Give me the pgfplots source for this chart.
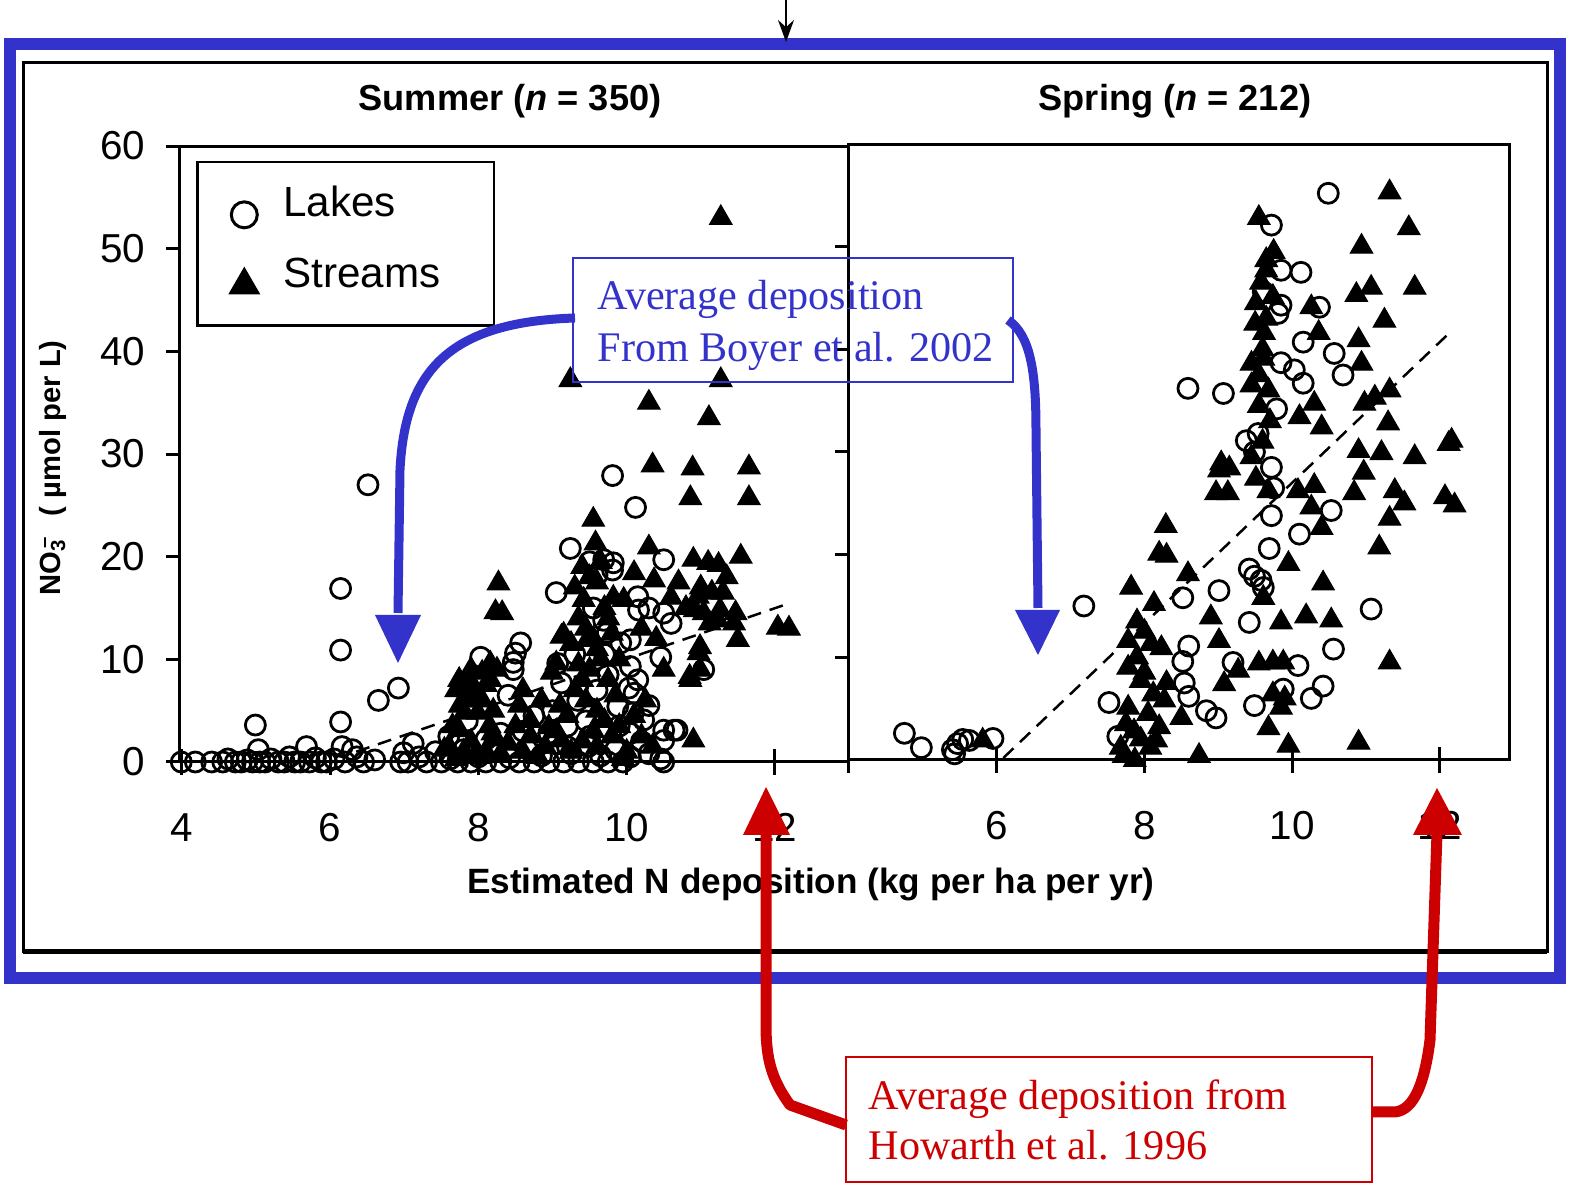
\documentclass[border=0pt]{standalone}
\usepackage{pgfplots}
\pgfplotsset{compat=1.18}
\usetikzlibrary{arrows.meta}
\usepackage{fontspec}
\setmainfont{Liberation Sans}
\newfontfamily\seriffont{Liberation Serif}
\definecolor{frameblue}{RGB}{51,51,204}
\definecolor{notered}{RGB}{204,0,0}

\pgfplotsset{
  lakes/.style={only marks, black, mark=o, mark size=1.0mm, mark options={line width=0.28mm}},
  streams/.style={only marks, black, mark=triangle*, mark size=1.3mm, mark options={fill=black, line width=0.1mm}},
  panel/.style={
    scale only axis, clip=false,
    ymin=0, ymax=60,
    axis line style={line width=0.3mm},
    tick style={black, line width=0.3mm},
    major tick length=1.35mm,
    minor tick length=1.0mm,
    tick label style={font=\fontsize{11.5}{13}\selectfont},
    /pgf/number format/assume math mode=true,
    xtick=\empty,
    extra x ticks={4,6,8,10,12},
    extra x tick style={major tick length=2.6mm, xtick align=center},
    xticklabel style={yshift=-2.6mm},
    yticklabel style={xshift=-0.9mm},
    ytick align=outside,
  },
}

\begin{document}
\begin{tikzpicture}[x=0.1mm,y=0.1mm]
\path[use as bounding box, fill=white] (0,0) rectangle (1571,1185);

% outer and inner frames
\draw[frameblue, line width=1.2mm] (10,207) rectangle (1560,1141);
\draw[black, line width=0.3mm] (23,233) rectangle (1547,1122);
\draw[black, line width=0.5mm] (23,233) -- (1547,233);
\draw[-{Stealth[length=2.2mm,width=1.6mm]}, line width=0.15mm] (786,1185) -- (786,1143);

% ---------------- Summer panel ----------------
\begin{axis}[panel,
  at={(18.0mm,42.3mm)}, anchor=south west,
  width=66.9mm, height=61.6mm,
  xmin=3.973, xmax=13,
  axis x line*=bottom, axis y line*=left,
  ytick={0,10,...,60},
  extra x tick labels={4,6,8,10,12},
  ytick align=outside,
  legend style={at={(0.024,0.976)}, anchor=north west, draw=black, line width=0.25mm,
    fill=white, inner xsep=1.7mm, inner ysep=2.45mm, row sep=2.6mm, column sep=0.9mm,
    font=\fontsize{12}{14}\selectfont,
    nodes={inner sep=0pt, text height=3.03mm, text depth=1.4mm},
    cells={anchor=base west}},
  legend image code/.code={\draw[overlay,#1] plot coordinates {(0.3cm,0.02cm)};
    \path[draw=none, fill=none] (0cm,0cm) rectangle (0.6cm,0.3cm);},
]
\draw[line width=0.3mm] (rel axis cs:0,1) -- (rel axis cs:1,1);
\addlegendimage{only marks, black, mark=o, mark size=1.3mm, mark options={line width=0.3mm}}
\addlegendentry{Lakes}
\addlegendimage{only marks, black, mark=triangle*, mark size=1.75mm, mark options={fill=black, line width=0.1mm}}
\addlegendentry{Streams\hspace*{3.65mm}}

% fitted line
\addplot[black, line width=0.25mm, dash pattern=on 1.4mm off 0.9mm, forget plot]
  coordinates {(6.35,1.0) (12.15,15.35)};

% streams
\addplot[streams, forget plot] coordinates {
(11.27,53.0) (9.24,37.2) (11.27,37.2) (10.3,35.0) (11.11,33.5) (10.35,28.9) (10.89,28.6)
(11.65,28.7) (10.86,25.7) (11.65,25.7) (9.55,23.6) (11.54,20.0) (8.27,17.4) (8.23,14.6)
(8.32,14.5) (12.04,13.1) (12.19,13.0) (9.15,12.4) (8.6,7.0) (10.9,2.1) (9.58,21.3)
(10.3,20.9) (10.9,19.7) (11.1,19.4) (11.24,19.2) (10.1,18.4) (10.37,17.7) (11.3,16.5)
(11.5,11.9) (10.5,9.0) (10.86,8.0) (10.97,10.6) (10.99,11.2) (9.96,15.8) (9.82,16.0)
(9.42,15.8) (9.47,11.9) (11.04,14.5) (11.23,13.8) (10.96,16.1) (11.26,14.8) (11.47,14.5)
(10.92,14.8) (11.12,13.5) (10.85,8.3) (10.99,9.0)
(9.12,12.2) (9.05,9.6) (8.99,8.7) (8.95,3.4) (9.12,2.1)
(7.74,8.0) (7.88,8.0) (8.05,8.7) (8.16,9.6) (8.05,6.0) (7.81,4.8) (7.85,6.0) (8.16,8.0)
(7.99,4.8) (7.74,3.1) (8.19,2.8) (7.54,1.2)
(9.3,17.0) (9.4,19.0) (9.5,18.0) (9.6,17.5) (9.65,19.5) (9.7,15.0) (9.75,14.0) (9.35,14.0)
(9.45,13.0) (9.55,12.0) (9.6,11.0) (9.65,10.0) (9.5,9.0) (9.4,8.0) (9.3,7.0) (9.45,6.0)
(9.6,5.0) (9.7,4.0) (9.55,3.0) (9.4,2.0) (9.25,1.0) (9.6,1.5) (9.8,2.5) (9.9,3.5)
(9.85,6.5) (9.75,8.0) (9.2,4.5) (9.1,5.5) (9.05,3.0) (8.9,1.5) (8.8,0.5) (8.7,2.5)
(8.6,1.0) (8.5,3.5) (8.4,1.8) (8.3,0.8) (8.2,2.2) (8.1,1.0) (8.0,0.5) (7.9,2.0)
(7.8,1.0) (7.7,0.3) (7.6,1.5) (7.65,3.5) (7.75,5.5) (7.85,7.0) (7.95,6.5) (8.1,7.5)
(8.2,5.0) (8.15,3.5) (8.25,9.0) (7.7,7.0) (7.9,9.0) (10.0,1.0) (10.2,2.5) (10.35,1.5)
(9.95,0.3) (10.1,4.5) (10.25,6.0) (10.4,12.0) (10.2,13.0) (10.6,16.0) (10.7,17.5)
(10.8,15.0) (11.0,17.0) (11.15,16.5) (11.35,18.0) (11.45,13.5) (9.35,9.5) (9.25,11.5)
(9.8,12.5) (9.9,10.0) (8.55,5.5) (8.85,6.0) (8.7,4.0)
};

% lakes
\addplot[lakes, forget plot] coordinates {
(3.99,0) (4.18,0) (4.4,0) (4.55,0) (4.62,0.3) (4.72,0) (4.8,0) (4.88,0.2) (4.95,0)
(5.03,1.2) (5.05,0) (5.12,0) (5.2,0.3) (5.3,0) (5.38,0) (5.45,0.5) (5.52,0) (5.6,0)
(5.68,1.5) (5.72,0) (5.8,0.4) (5.88,0) (5.95,0) (6.05,0.3) (6.16,1.5) (6.2,0) (6.3,1.2)
(6.36,0.5) (6.45,0) (6.6,0.2) (6.99,0.9) (7.12,1.8) (6.95,0) (7.05,0) (7.2,0.5) (7.3,0)
(7.42,1.0) (7.5,0) (7.62,0.3) (7.72,0) (7.8,1.2) (7.9,0) (8.0,0.5) (8.1,0) (8.2,1.0)
(8.3,0) (8.42,0.4) (8.55,0) (8.65,1.3) (8.75,0) (8.85,0.6) (8.95,0) (9.05,1.8) (9.15,0)
(9.25,0.8) (9.35,0) (9.48,1.5) (9.55,0) (9.65,0.6) (9.75,0) (9.85,1.2) (9.95,0)
(10.05,0.5) (10.2,2.0) (10.3,0.8) (10.46,0.3) (10.5,0) (10.5,2.1) (10.64,3.1) (10.68,3.1)
(4.99,3.6) (6.14,3.9) (6.14,10.9) (6.14,16.9) (6.51,27.0) (6.65,6.0) (6.92,7.2)
(8.03,10.2) (8.47,9.7) (8.5,10.6) (8.57,11.6) (8.47,9.0) (9.07,9.6) (9.12,7.7) (9.05,16.5)
(9.24,20.8) (9.5,19.5) (9.69,19.7) (9.82,19.4) (9.81,18.7) (9.6,18.2) (9.81,27.9)
(10.12,24.8) (10.15,16.1) (10.16,14.8) (10.5,14.5) (10.5,19.7) (10.05,9.3) (10.15,8.0)
(10.1,6.7) (10.03,7.2) (10.46,10.2) (11.04,9.0) (9.92,11.6) (9.74,12.6) (9.69,13.8)
(10.05,11.9) (9.34,6.0) (9.88,5.4) (10.23,4.1) (10.09,4.8) (10.05,2.8) (10.5,3.1)
(8.95,2.8) (8.6,3.0) (8.75,4.5) (9.0,5.0) (9.2,3.5) (9.45,4.0) (9.6,7.0) (9.75,8.5)
(9.9,3.5) (10.3,5.5) (7.85,4.0) (7.6,2.5) (8.3,2.8) (8.4,6.5) (9.7,10.5) (9.55,15.0)
(10.3,15.0) (10.6,13.5) (9.3,10.5) (7.75,1.8) (8.1,2.2) (9.5,2.5) (9.2,1.5)
};
\end{axis}

% ---------------- Spring panel ----------------
\begin{axis}[panel,
  at={(84.9mm,42.5mm)}, anchor=south west,
  width=66.1mm, height=61.6mm,
  xmin=4, xmax=12.95,
  ytick={10,20,...,50}, yticklabels={},
  extra x tick labels={,6,8,10,12},
  minor xtick={7,9}, xtick align=inside,
  xtick pos=bottom, ytick pos=left,
]
\addplot[black, line width=0.25mm, dash pattern=on 1.4mm off 0.9mm]
  coordinates {(6.09,0.2) (12.13,41.6)};

\addplot[streams] coordinates {
(11.32,55.3) (9.55,52.8) (11.58,51.8) (10.94,50.0) (9.65,48.7) (9.65,47.7) (11.07,46.0)
(10.87,45.3) (11.66,46.0) (9.51,44.5) (9.74,45.1) (11.25,42.8) (10.26,44.1) (10.9,40.9)
(9.62,41.6) (10.36,41.6) (10.94,38.6) (9.45,38.6) (9.61,39.1) (9.68,36.0) (10.3,34.7)
(10.4,32.4) (10.1,33.4) (10.98,34.7) (11.12,35.3) (11.32,36.0) (12.16,31.1) (11.3,32.8)
(10.9,30.1) (11.21,29.9) (11.66,29.5) (9.04,28.9) (9.45,36.5) (9.55,37.5)
(9.01,28.2) (9.15,28.4) (8.97,26.0) (9.13,26.0) (9.51,27.4) (9.68,26.2) (10.08,26.2)
(10.3,26.7) (10.26,24.6) (10.4,22.6) (10.97,28.0) (10.84,26.0) (11.39,26.2) (11.52,25.0)
(12.07,25.6) (12.2,24.8) (11.32,23.5) (11.18,20.7) (12.12,30.8)
(8.29,22.8) (8.2,20.1) (8.3,19.9) (7.82,16.8) (8.13,15.2) (8.59,18.1) (9.95,19.1)
(10.42,17.2) (9.85,13.4) (10.19,14.0) (10.53,13.6) (8.9,13.9) (9.01,11.6) (9.61,15.8)
(9.55,9.4) (9.74,9.5) (9.88,9.5) (9.27,8.7) (9.08,7.4) (11.32,9.5)
(7.78,11.6) (8.09,11.3) (8.23,10.9) (7.78,9.0) (7.95,7.7) (8.12,6.4) (8.27,5.8) (7.78,5.1)
(7.86,2.8) (8.16,1.9) (7.68,1.2) (8.74,0.4) (9.95,1.4) (10.9,1.7) (8.5,4.1) (9.68,3.1)
(9.85,5.1) (9.9,6.0) (9.74,6.4) (5.81,1.9) (7.72,0.4) (7.87,0.0) (8.08,1.2)
(7.9,10.0) (8.0,8.5) (8.05,4.5) (7.75,3.5) (8.2,3.2) (7.95,2.0) (8.3,7.5) (8.0,12.5)
(7.9,13.5) (9.5,42.5) (9.6,40.0) (9.55,34.5) (9.7,33.0) (9.6,31.0) (9.45,29.5)
(9.65,43.0) (9.75,49.5) (9.58,46.5)
};

\addplot[lakes] coordinates {
(10.49,55.2) (9.72,52.1) (9.85,47.7) (10.12,47.5) (9.61,45.6) (9.85,44.3) (9.81,43.5)
(10.37,44.1) (10.15,40.7) (10.57,39.6) (10.69,37.5) (9.85,38.7) (10.03,38.0) (10.15,36.7)
(8.59,36.2) (9.07,35.7) (9.79,34.2) (9.54,31.8) (9.49,30.0) (9.72,28.5) (9.75,26.5)
(9.38,31.1)
(7.18,15.0) (8.52,15.8) (9.01,16.5) (9.42,18.6) (9.49,17.9) (9.58,17.5) (9.61,16.8)
(9.72,23.8) (10.1,22.0) (9.69,20.6) (10.53,24.3) (9.42,13.4) (11.07,14.7) (10.56,10.8)
(8.6,11.1) (8.52,9.6) (8.54,7.5) (8.6,6.2) (9.2,9.5) (10.08,9.2) (9.88,6.9) (10.26,6.0)
(10.42,7.2) (9.49,5.3) (8.84,4.8) (8.97,4.1) (7.52,5.6) (7.64,2.3)
(4.75,2.6) (4.98,1.2) (5.47,1.6) (5.43,0.6) (5.54,2.0) (5.63,1.9) (5.95,2.1) (5.40,1.0)
};
\end{axis}

% titles and axis labels
\node[font=\bfseries\fontsize{10.3}{12}\selectfont] at (510,1084) {Summer (\textit{n} = 350)};
\node[font=\bfseries\fontsize{10.3}{12}\selectfont] at (1175,1084) {Spring (\textit{n} = 212)};
\node[font=\bfseries\fontsize{10}{12}\selectfont] at (811,301) {Estimated N deposition (kg per ha per yr)};
\node[rotate=90, font=\bfseries\fontsize{8.3}{10}\selectfont] at (53,717)
  {NO\rlap{\textsuperscript{\,–}}\textsubscript{3}\hspace{0.5em} ( µmol per L)};

% Boyer et al. annotation
\draw[frameblue, line width=0.22mm] (573,803) rectangle (1013,927);
\node[anchor=base west, inner sep=0pt, text=frameblue, font=\seriffont\fontsize{12}{14}\selectfont] at (597,875) {Average deposition};
\node[anchor=base west, inner sep=0pt, text=frameblue, font=\seriffont\fontsize{12}{14}\selectfont] at (597,823) {From Boyer et al. 2002};
\draw[frameblue, line width=0.9mm, line join=round] (575,867) .. controls (450,863) and (405,815) .. (400,715) -- (398,572);
\fill[frameblue] (375,570) -- (421,570) -- (398,522) -- cycle;
\draw[frameblue, line width=0.9mm, line join=round] (1008,865) .. controls (1030,850) and (1036,815) .. (1036,755) -- (1038,577);
\fill[frameblue] (1015,575) -- (1060,575) -- (1038,530) -- cycle;

% Howarth et al. annotation
\draw[notered, line width=0.25mm] (846,3) rectangle (1372,128);
\node[anchor=base west, inner sep=0pt, text=notered, font=\seriffont\fontsize{12}{14}\selectfont] at (868,75) {Average deposition from};
\node[anchor=base west, inner sep=0pt, text=notered, font=\seriffont\fontsize{12}{14}\selectfont] at (868,25) {Howarth et al. 1996};
\draw[notered, line width=1.1mm, line join=round] (846,60) -- (790,80) .. controls (772,105) and (766,125) .. (766,160) -- (766,352);
\fill[notered] (743,350) -- (790,350) -- (766,398) -- cycle;
\draw[notered, line width=1.1mm, line join=round] (1372,73) -- (1395,73) .. controls (1415,75) and (1425,105) .. (1430,145) -- (1437,352);
\fill[notered] (1413,350) -- (1462,350) -- (1437,397) -- cycle;
\end{tikzpicture}
\end{document}
